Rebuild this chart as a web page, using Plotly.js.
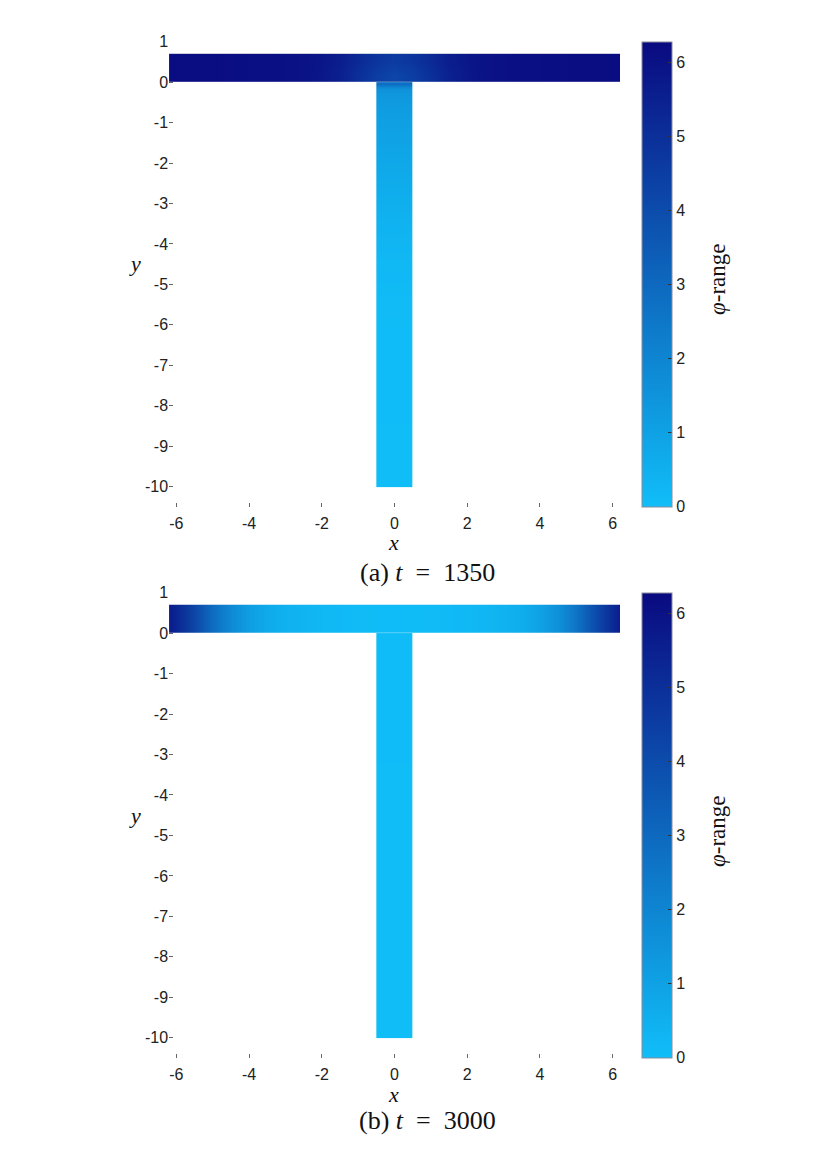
<!DOCTYPE html>
<html>
<head>
<meta charset="utf-8">
<script src="https://cdn.plot.ly/plotly-3.0.1.min.js"></script>
<style>
  html, body { margin: 0; padding: 0; background: #fff; }
  #chart { width: 827px; height: 1170px; }
</style>
</head>
<body>
<div id="chart"></div>
<script>
// T-junction: horizontal bar y in [0, 0.7], stem x in [-0.5, 0.5], y in [-10, 0]
const barYEdges = [0, 0.35, 0.7];
const stemXEdges = [-0.5, 0, 0.5];
const stemYEdges = [-10, -8, -6, -5, -4, -3, -2, -1.2, -0.6, -0.25, -0.1, 0];

// (a) t = 1350
const barXA = [-6.4, -5.5, -4.5, -3.5, -2.5, -2, -1.5, -1, -0.5, 0, 0.5, 1, 1.5, 2, 2.5, 3.5, 4.5, 5.5, 6.4];
const barLowA = [6.2, 6.2, 6.15, 6.1, 6.0, 5.8, 5.5, 5.0, 4.5, 4.2, 4.5, 5.0, 5.5, 5.8, 6.0, 6.1, 6.15, 6.2, 6.2];
const barHighA = [6.2, 6.2, 6.15, 6.1, 6.0, 5.85, 5.6, 5.2, 4.8, 4.6, 4.8, 5.2, 5.6, 5.85, 6.0, 6.1, 6.15, 6.2, 6.2];
const stemA = [0.05, 0.06, 0.1, 0.2, 0.4, 0.65, 0.9, 1.1, 1.3, 1.5, 2.8];

// (b) t = 3000
const barXB = [-6.4, -6, -5.5, -5, -4.5, -4, -3.5, -3, -2, -1, 0, 1, 2, 3, 3.5, 4, 4.5, 5, 5.5, 6, 6.4];
const barB = [6.0, 5.3, 4.2, 2.8, 1.8, 1.1, 0.7, 0.45, 0.22, 0.1, 0.06, 0.1, 0.2, 0.4, 0.6, 1.0, 1.6, 2.6, 4.0, 5.2, 6.0];
const stemB = [0.04, 0.04, 0.05, 0.05, 0.05, 0.06, 0.06, 0.06, 0.06, 0.06, 0.06];

const xTicks = [-6, -4, -2, 0, 2, 4, 6];
const xTickText = ['-6', '-4', '-2', '0', '2', '4', '6'];
const yTicks = [-10, -9, -8, -7, -6, -5, -4, -3, -2, -1, 0, 1];
const yTickText = ['-10', '-9', '-8', '-7', '-6', '-5', '-4', '-3', '-2', '-1', '0', '1'];
const cbTicks = [0, 1, 2, 3, 4, 5, 6];
const captions = ['(a) <i>t</i>&nbsp;&nbsp;=&nbsp;&nbsp;1350', '(b) <i>t</i>&nbsp;&nbsp;=&nbsp;&nbsp;3000'];
const cbTitle = '<i>φ</i>-range';

const colors = [
    [0, '#10bef8'],
    [0.5, '#0d65bc'],
    [1, '#0a0a80']
];

const tickFont = { family: 'Liberation Sans, Arial, sans-serif', size: 16, color: '#222' };
const serif = 'Liberation Serif, Times New Roman, serif';

function heat(x, y, z, xa, ya, ca) {
    return {
        type: 'heatmap',
        x: x, y: y, z: z,
        xaxis: xa, yaxis: ya,
        coloraxis: ca,
        zsmooth: 'best',
        hoverinfo: 'skip'
    };
}

const data = [
    heat(barXA, barYEdges, [barLowA, barHighA], 'x', 'y', 'coloraxis'),
    heat(stemXEdges, stemYEdges, stemA.map(v => [v, v]), 'x', 'y', 'coloraxis'),
    heat(barXB, barYEdges, [barB, barB], 'x2', 'y2', 'coloraxis2'),
    heat(stemXEdges, stemYEdges, stemB.map(v => [v, v]), 'x2', 'y2', 'coloraxis2')
];

function xAxis(anchor) {
    return {
        domain: [0.2044, 0.7497],
        range: [-6.2, 6.2],
        anchor: anchor,
        tickvals: xTicks,
        ticktext: xTickText,
        ticks: 'inside', ticklen: 4, tickcolor: '#666',
        ticklabelstandoff: 5,
        showgrid: false, zeroline: false, showline: false,
        tickfont: tickFont
    };
}

function yAxis(domain, anchor) {
    return {
        domain: domain,
        range: [-10.5, 1],
        anchor: anchor,
        tickvals: yTicks,
        ticktext: yTickText,
        ticks: 'inside', ticklen: 4, tickcolor: '#666',
        showgrid: false, zeroline: false, showline: false,
        tickfont: tickFont
    };
}

function colorAxis(yc) {
    return {
        cmin: 0, cmax: 6.2832,
        colorscale: colors,
        colorbar: {
            x: 0.7763, xanchor: 'left',
            y: yc, yanchor: 'middle',
            len: 465, lenmode: 'pixels',
            thickness: 30,
            xpad: 0, ypad: 0,
            outlinecolor: '#8a8aa0', outlinewidth: 1,
            tickvals: cbTicks,
            ticks: 'inside', ticklen: 4, tickcolor: '#333',
            tickfont: tickFont
        }
    };
}

function label(text, x, y, size, angle) {
    return {
        text: text, x: x, y: y,
        xref: 'paper', yref: 'paper',
        xanchor: 'center', yanchor: 'middle',
        textangle: angle || 0,
        showarrow: false,
        font: { family: serif, size: size, color: '#111' }
    };
}

const layout = {
    width: 827,
    height: 1170,
    margin: { t: 0, r: 0, b: 0, l: 0 },
    paper_bgcolor: 'white',
    plot_bgcolor: 'white',
    showlegend: false,
    xaxis: xAxis('y'),
    yaxis: yAxis([0.5667, 0.9644], 'x'),
    xaxis2: xAxis('y2'),
    yaxis2: yAxis([0.0957, 0.4935], 'x2'),
    coloraxis: colorAxis(0.7655),
    coloraxis2: colorAxis(0.2946),
    annotations: [
        label('<i>x</i>', 0.4764, 0.5365, 22),
        label('<i>y</i>', 0.1632, 0.7752, 22),
        label(captions[0], 0.5169, 0.5111, 26),
        label(cbTitle, 0.8682, 0.7607, 23, -90),
        label('<i>x</i>', 0.4764, 0.0647, 22),
        label('<i>y</i>', 0.1632, 0.3034, 22),
        label(captions[1], 0.5169, 0.0427, 26),
        label(cbTitle, 0.8682, 0.2889, 23, -90)
    ]
};

Plotly.newPlot('chart', data, layout, { displayModeBar: false, staticPlot: true });
</script>
</body>
</html>
